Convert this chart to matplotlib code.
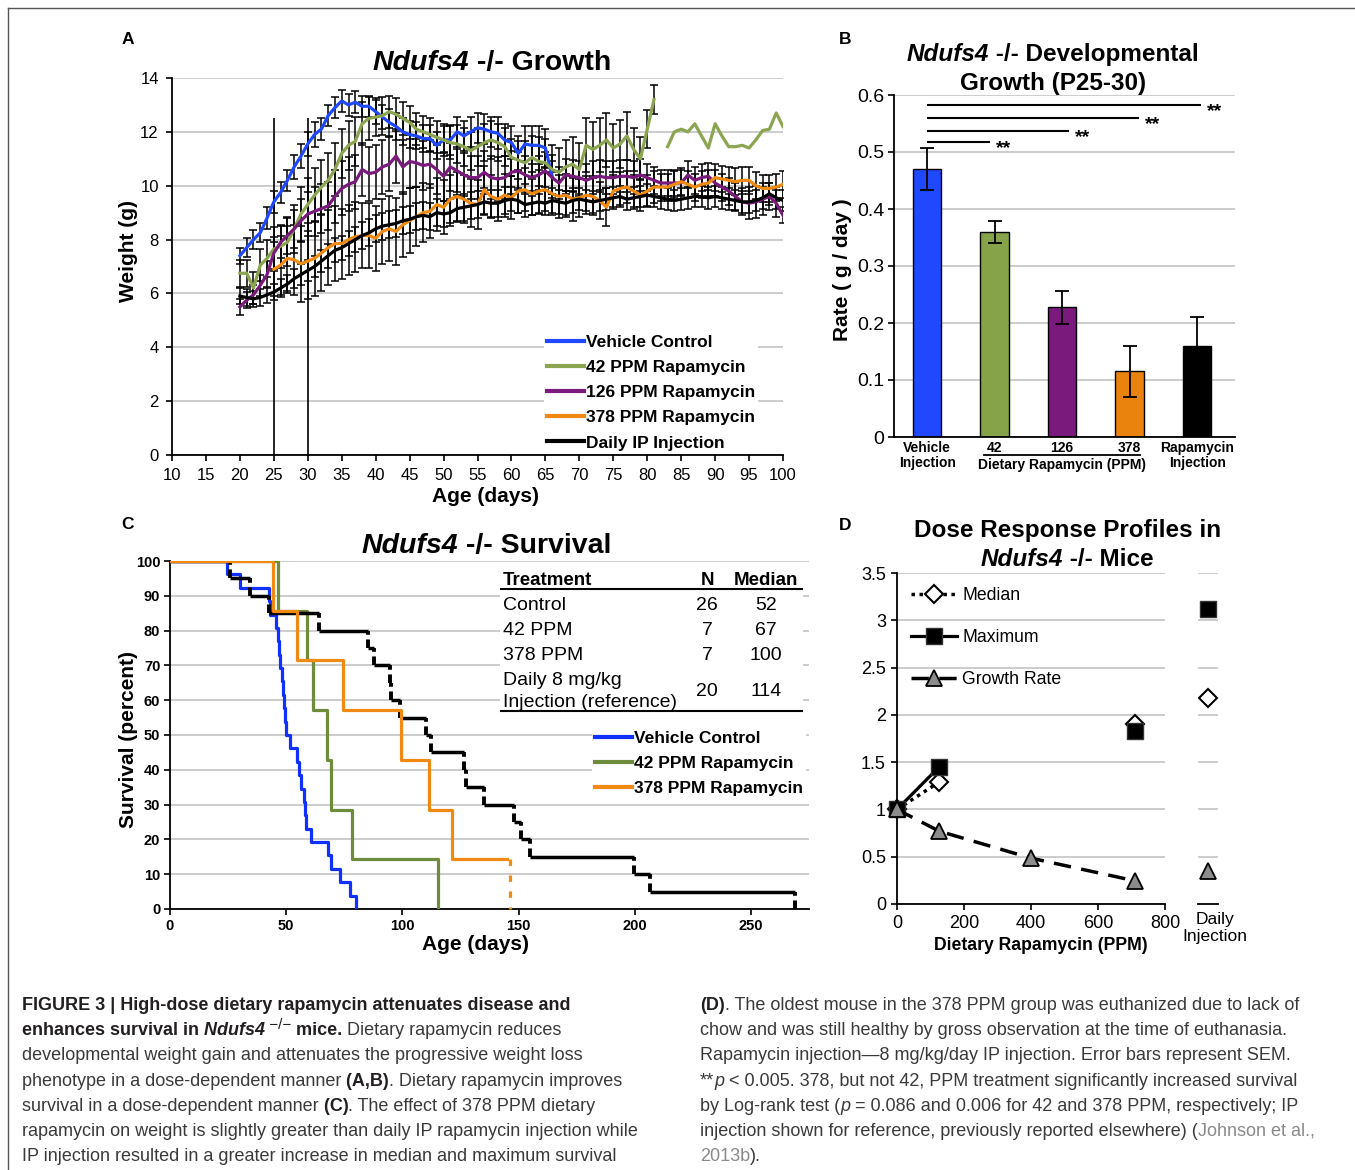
import numpy as np
import matplotlib
matplotlib.use("Agg")
import matplotlib.pyplot as plt
from matplotlib.lines import Line2D
from matplotlib.patches import Rectangle

plt.rcParams['font.family'] = ['Liberation Sans', 'DejaVu Sans']
plt.rcParams['axes.linewidth'] = 1.3

nan = np.nan
W, H = 1355, 1170

# ---------------- A: body weight, days 20-100
days = np.arange(20, 101)
vehicle_w = [7.4, 7.7, 8.0, 8.25, 8.8, 9.4, 9.75, 10.2, 10.7, 11.1,
             11.55, 11.9, 12.1, 12.6, 12.9, 13.15, 13.0, 13.1, 12.95, 12.95,
             12.75, 12.55, 12.35, 12.2, 12.0, 11.9, 11.85, 11.75, 11.75, 11.5,
             11.7, 11.7, 12.0, 11.85, 12.0, 12.15, 12.1, 12.0, 11.95, 11.7,
             11.6, 11.2, 11.55, 11.5, 11.5, 11.4, 10.35] + [nan] * 34
vehicle_e = [0.3, 0.35, 0.35, 0.35, 0.4, 0.4, 0.4, 0.4, 0.45, 0.45,
             0.45, 0.45, 0.4, 0.4, 0.4, 0.4, 0.4, 0.4, 0.4, 0.4,
             0.45, 0.45, 0.5, 0.5, 0.5, 0.5, 0.5, 0.5, 0.5, 0.5,
             0.5, 0.55, 0.55, 0.55, 0.55, 0.55, 0.55, 0.55, 0.6, 0.6,
             0.6, 0.65, 0.65, 0.7, 0.7, 0.7, 0.8] + [nan] * 34
ppm42_w = [6.75, 6.75, 6.2, 7.05, 7.3, 7.65, 7.75, 7.9, 8.4, 8.95,
           9.3, 9.65, 9.95, 10.2, 10.6, 11.2, 11.5, 11.65, 12.3, 12.5,
           12.55, 12.6, 12.75, 12.65, 12.5, 12.35, 12.1, 12.0, 11.9, 11.8,
           11.7, 11.6, 11.55, 11.45, 11.3, 11.45, 11.6, 11.7, 11.6, 11.45,
           11.05, 10.95, 10.85, 11.05, 10.9, 10.85, 10.6, 10.5, 10.7, 10.8,
           10.6, 11.5, 11.35, 11.5, 11.7, 11.4, 11.55, 11.85, 11.35, 11.0,
           12.1, 13.2, nan, 11.45, 12.0, 12.1, 12.0, 12.3, 11.85, 11.4,
           12.3, 11.85, 11.45, 11.45, 11.5, 11.4, 11.7, 12.05, 12.1, 12.7,
           12.2]
ppm42_e = [0.5, 0.5, 0.6, 0.6, 0.7, 0.8, 0.8, 0.9, 0.9, 1.0,
           1.0, 1.0, 1.0, 1.0, 1.0, 0.9, 0.9, 0.9, 0.8, 0.8,
           0.7, 0.7, 0.6, 0.6, 0.6, 0.6, 0.6, 0.6, 0.6, 0.6,
           0.6, 0.6, 0.7, 0.7, 0.7, 0.7, 0.7, 0.7, 0.7, 0.7,
           0.7, 0.7, 0.8, 0.8, 0.9, 0.9, 0.9, 0.9, 1.0, 1.0,
           1.0, 1.0, 1.0, 1.0, 1.0, 0.9, 0.9, 0.9, 0.8, 0.8,
           0.7, 0.55] + [nan] * 19
ppm126_w = [5.5, 5.75, 5.95, 6.3, 6.7, 7.5, 7.9, 8.15, 8.4, 8.7,
            8.95, 9.05, 9.15, 9.25, 9.6, 9.9, 10.05, 10.15, 10.6, 10.45,
            10.5, 10.7, 10.8, 11.1, 10.7, 10.9, 10.85, 10.75, 10.8, 10.6,
            10.35, 10.7, 10.55, 10.4, 10.3, 10.3, 10.5, 10.3, 10.25, 10.3,
            10.5, 10.55, 10.4, 10.3, 10.4, 10.55, 10.3, 10.1, 10.4, 10.35,
            10.3, 10.2, 10.3, 10.35, 10.3, 10.3, 10.35, 10.35, 10.3, 10.4,
            10.3, 10.2, 10.1, 10.1, 10.1, 10.1, 10.4, 10.2, 10.3, 10.35,
            10.1, 9.95, 9.8, 9.6, 9.4, 9.35, 9.4, 9.5, 9.6, 9.35,
            8.9]
ppm126_e = [0.3, 0.3, 0.35, 0.4, 0.5, 0.6, 0.6, 0.7, 0.7, 0.8,
            0.8, 0.9, 0.9, 0.9, 1.0, 1.0, 1.0, 1.0, 1.0, 1.0,
            1.0, 1.0, 1.0, 1.0, 1.0, 1.0, 0.9, 0.9, 0.9, 0.9,
            0.9, 0.9, 0.8, 0.8, 0.8, 0.8, 0.8, 0.8, 0.8, 0.8,
            0.8, 0.7, 0.7, 0.7, 0.7, 0.7, 0.6, 0.6, 0.6, 0.6,
            0.6, 0.6, 0.6, 0.6, 0.6, 0.6, 0.6, 0.6, 0.6, 0.6,
            0.5, 0.5, 0.5, 0.5, 0.5, 0.5, 0.5, 0.5, 0.5, 0.5,
            0.5, 0.5, 0.5, 0.5, 0.5, 0.6, 0.6, 0.6, 0.5, 0.5,
            0.3]
ppm378_w = [nan] * 5 + [
            6.9, 7.05, 7.3, 7.25, 7.1, 7.2, 7.3, 7.5, 7.7, 7.85,
            7.85, 8.0, 8.1, 8.15, 8.15, 8.05, 8.3, 8.4, 8.3, 8.55,
            8.7, 8.85, 9.0, 9.05, 9.3, 9.2, 9.5, 9.6, 9.5, 9.35,
            9.3, 9.85, 9.6, 9.5, 9.65, 9.55, 9.8, 9.85, 9.7, 9.8,
            9.85, 9.7, 9.6, 9.65, 9.5, 9.55, 9.65, 9.6, 9.45, 9.2,
            9.8, 9.9, 9.95, 9.8, 9.65, 9.8, 9.95, 9.95, 9.95, 10.05,
            10.15, 10.05, 9.95, 10.05, 10.1, 10.3, 10.25, 10.2, 10.15, 10.2,
            10.2, 10.0, 9.9, 9.9, 9.95, 10.05]
ppm378_e = [nan] * 5 + [
            1.0, 1.1, 1.2, 1.3, 1.4, 1.4, 1.4, 1.4, 1.4, 1.4,
            1.3, 1.3, 1.3, 1.2, 1.2, 1.2, 1.2, 1.2, 1.25, 1.2,
            1.2, 1.1, 1.1, 1.0, 1.0, 1.0, 0.9, 0.9, 0.9, 0.9,
            0.9, 0.9, 0.8, 0.8, 0.8, 0.8, 0.8, 0.8, 0.8, 0.8,
            0.8, 0.8, 0.8, 0.8, 0.8, 0.7, 0.7, 0.7, 0.7, 0.7,
            0.6, 0.6, 0.6, 0.6, 0.6, 0.6, 0.6, 0.5, 0.5, 0.5,
            0.5, 0.5, 0.5, 0.5, 0.5, 0.5, 0.5, 0.5, 0.5, 0.5,
            0.5, 0.5, 0.5, 0.5, 0.5, 0.5]
ip_w = [5.9, 5.85, 5.8, 5.85, 5.95, 6.05, 6.2, 6.35, 6.55, 6.7,
        6.85, 7.0, 7.2, 7.4, 7.6, 7.7, 7.85, 8.0, 8.15, 8.25,
        8.4, 8.5, 8.55, 8.6, 8.7, 8.75, 8.85, 8.9, 8.85, 9.0,
        8.95, 9.0, 9.15, 9.2, 9.25, 9.3, 9.4, 9.35, 9.35, 9.45,
        9.5, 9.45, 9.3, 9.35, 9.4, 9.35, 9.45, 9.4, 9.35, 9.45,
        9.5, 9.45, 9.4, 9.45, 9.5, 9.55, 9.6, 9.5, 9.55, 9.6,
        9.65, 9.6, 9.55, 9.5, 9.45, 9.5, 9.55, 9.6, 9.6, 9.55,
        9.6, 9.55, 9.5, 9.45, 9.4, 9.4, 9.45, 9.55, 9.7, 9.55,
        9.45]
ip_e = [0.3, 0.3, 0.3, 0.3, 0.3, 0.3, 0.35, 0.35, 0.35, 0.4,
        0.4, 0.4, 0.4, 0.45, 0.45, 0.45, 0.45, 0.45, 0.5, 0.5] + \
       [0.5] * 20 + [0.45] * 10 + [0.4] * 31

# ---------------- B: growth rate P25-30
groups = ['Vehicle\nInjection', '42', '126', '378', 'Rapamycin\nInjection']
rate = [0.47, 0.36, 0.228, 0.115, 0.16]
rate_err = [0.037, 0.019, 0.029, 0.045, 0.05]

# ---------------- C: survival (death ages, days)
control_deaths = [24.5, 30, 42.5, 43, 45.5, 46.5, 47, 47.5, 48, 48.5, 49, 49.5, 50,
                  51.5, 54.5, 55.5, 56.5, 57.5, 58, 58.5, 60.5, 68, 69.5, 73, 77.5, 80]
ppm42_deaths = [46.5, 59, 61.5, 67.5, 69.5, 78.5, 115.5]
ppm378_deaths = [44.5, 54.5, 74.5, 99.5, 111.5, 121.5]
ppm378_censor = 146.5
ip_deaths = [26, 34.5, 42.5, 64, 85, 88, 94.5, 95, 99, 110, 112.5, 126.5, 127.5,
             135, 148, 151, 155, 199.5, 206.5, 269]
table_rows = [('Control', '26', '52'), ('42 PPM', '7', '67'), ('378 PPM', '7', '100'),
              ('Daily 8 mg/kg\nInjection (reference)', '20', '114')]

# ---------------- D: dose response (relative to control)
dose = [0, 126, 400, 710]
median_rel = [1.0, 1.29, nan, 1.9]
max_rel = [1.0, 1.45, nan, 1.83]
growth_rel = [1.0, 0.77, 0.485, 0.245]
inj_median, inj_max, inj_growth = 2.18, 3.12, 0.345

BLUE, GREEN, PURPLE, ORANGE = '#1f48ff', '#8ba550', '#7a1a7c', '#f08a12'
GRID = '#c8c8c8'

fig = plt.figure(figsize=(W / 100, H / 100), dpi=100)
rend = fig.canvas.get_renderer()


def add_ax(l, t, r, b):
    return fig.add_axes([l / W, 1 - b / H, (r - l) / W, (b - t) / H])


def ftext(x, y, s, **kw):
    return fig.text(x / W, 1 - y / H, s, **kw)


def rich(x, y, runs, ha='left', size=12, color='#333333'):
    arts, widths = [], []
    for s, kw in runs:
        k = dict(fontsize=size, color=color, va='baseline', ha='left')
        k.update(kw)
        dy = k.pop('dy', 0)
        t = fig.text(0, 1 - (y + dy) / H, s, **k)
        widths.append(t.get_window_extent(rend).width)
        arts.append(t)
    x0 = x - sum(widths) / 2 if ha == 'center' else x
    for t, w in zip(arts, widths):
        t.set_x(x0 / W)
        x0 += w


def clean(ax):
    ax.spines['top'].set_visible(False)
    ax.spines['right'].set_visible(False)
    ax.yaxis.grid(True, color=GRID, lw=1.3)
    ax.set_axisbelow(True)


B = dict(fontweight='bold')
BI = dict(fontweight='bold', fontstyle='italic')

# border
fig.add_artist(Line2D([8 / W, 1], [1 - 8 / H, 1 - 8 / H], color='#555555', lw=1))
fig.add_artist(Line2D([8 / W, 8 / W], [0, 1 - 8 / H], color='#555555', lw=1))

# ======== A
axA = add_ax(172, 78, 783, 455)
clean(axA)
axA.set_xlim(10, 100)
axA.set_ylim(0, 14)
axA.set_xticks(range(10, 101, 5))
axA.set_yticks(range(0, 15, 2))
axA.tick_params(labelsize=12, length=4.5, width=1.2, pad=5)
axA.vlines([25, 30], 0, 12.5, color='k', lw=1.2, zorder=2)
seriesA = [(vehicle_w, vehicle_e, BLUE, 'Vehicle Control'),
           (ppm42_w, ppm42_e, GREEN, '42 PPM Rapamycin'),
           (ppm126_w, ppm126_e, PURPLE, '126 PPM Rapamycin'),
           (ppm378_w, ppm378_e, ORANGE, '378 PPM Rapamycin'),
           (ip_w, ip_e, 'black', 'Daily IP Injection')]
for w, e, c, lab in seriesA:
    axA.errorbar(days, w, yerr=e, fmt='none', ecolor='k', elinewidth=1.1,
                 capsize=3, capthick=1.1, zorder=2)
for w, e, c, lab in seriesA:
    axA.plot(days, w, color=c, lw=2.3, label=lab, zorder=3)
legA = axA.legend(loc='upper left', bbox_to_anchor=(544 / W, 1 - 331 / H),
                  bbox_transform=fig.transFigure, prop=dict(weight='bold', size=12.5),
                  frameon=True, fancybox=False, framealpha=1, edgecolor='none',
                  borderpad=0.2, handlelength=2.1, handletextpad=0.1, labelspacing=0.58,
                  borderaxespad=0)
for h in legA.get_lines():
    h.set_linewidth(3)
ftext(128, 44, 'A', fontsize=12.5, ha='center', va='baseline', **B)
rich(492, 70, [('Ndufs4', BI), (' -/- Growth', B)], ha='center', size=20.5, color='k')
ftext(129, 251, 'Weight (g)', fontsize=15, rotation=90, ha='center', va='center', **B)
ftext(485, 496, 'Age (days)', fontsize=15, ha='center', va='center', **B)

# ======== B
axB = add_ax(894, 95, 1235, 437)
clean(axB)
axB.set_ylim(0, 0.6)
axB.set_xlim(-0.49, 4.56)
xb = np.arange(len(groups))
axB.bar(xb, rate, width=0.42, color=[BLUE, '#87a34a', PURPLE, '#ea830e', 'black'],
        edgecolor='black', lw=1, zorder=2)
axB.errorbar(xb, rate, yerr=rate_err, fmt='none', ecolor='k', elinewidth=1.3,
             capsize=5, capthick=1.3, zorder=3)
axB.set_yticks(np.arange(0, 0.61, 0.1))
axB.set_yticklabels(['0', '0.1', '0.2', '0.3', '0.4', '0.5', '0.6'])
axB.set_xticks(xb)
axB.set_xticklabels(groups, fontweight='bold', fontsize=10, linespacing=1.1)
axB.tick_params(axis='y', labelsize=14, length=4, width=1.2, pad=3)
axB.tick_params(axis='x', length=0, pad=3)
for xe, yl in [(0.92, 0.518), (2.09, 0.537), (3.13, 0.560), (4.04, 0.583)]:
    axB.plot([0.02, xe], [yl, yl], color='k', lw=1.5, zorder=3)
    axB.text(xe + 0.1, yl - 0.012, '**', fontsize=14, ha='left', va='center', **B)
tr = axB.get_xaxis_transform()
axB.plot([0.85, 3.15], [-0.053, -0.053], color='k', lw=1.3, transform=tr, clip_on=False)
axB.text(2.0, -0.082, 'Dietary Rapamycin (PPM)', transform=tr, fontsize=10,
         ha='center', va='center', **B)
ftext(845, 44, 'B', fontsize=12.5, ha='center', va='baseline', **B)
rich(1053, 61, [('Ndufs4', BI), (' -/- Developmental', B)], ha='center', size=17.5, color='k')
ftext(1053, 90, 'Growth (P25-30)', fontsize=17.5, ha='center', va='baseline', color='k', **B)
ftext(842, 270, 'Rate ( g / day )', fontsize=15, rotation=90, ha='center', va='center', **B)

# ======== C
axC = add_ax(170, 561, 809, 909)
clean(axC)
axC.set_xlim(0, 275)
axC.set_ylim(0, 100)
axC.set_xticks(range(0, 251, 50))
axC.set_yticks(range(0, 101, 10))
axC.tick_params(labelsize=10.5, length=4, width=1.2, pad=3)
for lab in axC.get_xticklabels() + axC.get_yticklabels():
    lab.set_fontweight('bold')


def km_path(deaths, n, t_end=None):
    xs, ys, s = [0], [100.0], 100.0
    for k, t in enumerate(deaths, 1):
        xs += [t, t]
        ys += [s, 100.0 * (1 - k / n)]
        s = 100.0 * (1 - k / n)
    if t_end is not None:
        xs.append(t_end)
        ys.append(s)
    return xs, ys


x1, y1 = km_path(control_deaths, 26)
axC.plot(x1, y1, color='#1030ff', lw=2.3, zorder=3, label='Vehicle Control')
x2, y2 = km_path(ppm42_deaths, 7)
axC.plot(x2, y2, color='#6e8c3c', lw=2.3, zorder=3, label='42 PPM Rapamycin')
x3, y3 = km_path(ppm378_deaths, 7, t_end=ppm378_censor - 1.5)
axC.plot(x3, y3, color=ORANGE, lw=2.3, zorder=5, label='378 PPM Rapamycin')
axC.plot([ppm378_censor, ppm378_censor], [y3[-1], 0], color=ORANGE, lw=2.3,
         ls=(0, (2, 3)), zorder=5, clip_on=False)
n_ip = len(ip_deaths)
lev = [100.0 * (1 - k / n_ip) for k in range(n_ip + 1)]
axC.hlines(lev[:-1], [0] + ip_deaths[:-1], ip_deaths, color='k', lw=2.5, zorder=4)
axC.vlines(ip_deaths, lev[1:], lev[:-1], color='k', lw=2.8, linestyles=(0, (2.2, 1.2)), zorder=4)
legC = axC.legend(loc='upper left', bbox_to_anchor=(592 / W, 1 - 727 / H),
                  bbox_transform=fig.transFigure, prop=dict(weight='bold', size=12.5),
                  frameon=True, fancybox=False, framealpha=1, edgecolor='none',
                  borderpad=0.2, handlelength=2.1, handletextpad=0.1, labelspacing=0.58,
                  borderaxespad=0)
for h in legC.get_lines():
    h.set_linewidth(3)

# survival table
fig.add_artist(Rectangle((500 / W, 1 - 713 / H), 303 / W, 148 / H, transform=fig.transFigure,
                         facecolor='white', edgecolor='none', zorder=1))
ftext(503, 585, 'Treatment', fontsize=13.5, ha='left', va='baseline', **B)
ftext(707, 585, 'N', fontsize=13.5, ha='center', va='baseline', **B)
ftext(766, 585, 'Median', fontsize=13.5, ha='center', va='baseline', **B)
fig.add_artist(Line2D([501 / W, 802 / W], [1 - 589 / H] * 2, color='k', lw=1.5))
fig.add_artist(Line2D([501 / W, 802 / W], [1 - 711 / H] * 2, color='k', lw=1.5))
for (name, n, med), yb in zip(table_rows, [610, 635, 660, 685]):
    if '\n' in name:
        a, b = name.split('\n')
        ftext(503, yb, a, fontsize=14, ha='left', va='baseline')
        ftext(503, yb + 22, b, fontsize=14, ha='left', va='baseline')
        yb += 11
    else:
        ftext(503, yb, name, fontsize=14, ha='left', va='baseline')
    ftext(707, yb, n, fontsize=14, ha='center', va='baseline')
    ftext(766, yb, med, fontsize=14, ha='center', va='baseline')

ftext(128, 529, 'C', fontsize=12.5, ha='center', va='baseline', **B)
rich(486, 553, [('Ndufs4', BI), (' -/- Survival', B)], ha='center', size=20.5, color='k')
ftext(128, 739, 'Survival (percent)', fontsize=15, rotation=90, ha='center', va='center', **B)
ftext(476, 944, 'Age (days)', fontsize=15, ha='center', va='center', **B)

# ======== D
axD = add_ax(897, 573, 1165, 904)
clean(axD)
axD.set_xlim(0, 800)
axD.set_ylim(0, 3.5)
axD.set_xticks(range(0, 801, 200))
axD.set_yticks(np.arange(0, 3.51, 0.5))
axD.set_yticklabels(['0', '0.5', '1', '1.5', '2', '2.5', '3', '3.5'])
axD.tick_params(labelsize=13, length=4, width=1.2, pad=4)
axD.plot(dose, median_rel, color='k', lw=2.5, ls=(0, (1, 1.3)), marker='D', ms=9,
         mfc='white', mec='k', mew=1.5, zorder=3, clip_on=False, label='Median')
axD.plot(dose, max_rel, color='k', lw=2.3, marker='s', ms=12, mfc='black', mec='#333333',
         zorder=4, clip_on=False, label='Maximum')
axD.plot(dose, growth_rel, color='k', lw=2.5, ls=(0, (5, 3)), marker='^', ms=11,
         mfc='#8c8c8c', mec='k', mew=1.3, zorder=5, clip_on=False, label='Growth Rate')
axD.legend(loc='upper left', bbox_to_anchor=(911 / W, 1 - 587 / H),
           bbox_transform=fig.transFigure, frameon=False, fontsize=12.7,
           borderpad=0, handlelength=2.6, handletextpad=0.3, labelspacing=1.42,
           borderaxespad=0)
ftext(845, 530, 'D', fontsize=12.5, ha='center', va='baseline', **B)
ftext(1068, 537, 'Dose Response Profiles in', fontsize=17.5, ha='center', va='baseline',
      color='k', **B)
rich(1067, 566, [('Ndufs4', BI), (' -/- Mice', B)], ha='center', size=17.5, color='k')
ftext(1041, 945, 'Dietary Rapamycin (PPM)', fontsize=12.7, ha='center', va='center', **B)

axI = add_ax(1198, 573, 1218, 904)
axI.set_xlim(-1, 1)
axI.set_ylim(0, 3.5)
axI.set_yticks(np.arange(0.5, 3.51, 0.5))
axI.yaxis.grid(True, color=GRID, lw=1.3)
axI.set_axisbelow(True)
for s in ['top', 'right', 'left']:
    axI.spines[s].set_visible(False)
axI.tick_params(length=0, labelleft=False, labelbottom=False)
axI.plot([0], [inj_median], 'D', ms=9, mfc='white', mec='k', mew=1.5, zorder=3)
axI.plot([0], [inj_max], 's', ms=12, mfc='black', mec='#333333', zorder=4)
axI.plot([0], [inj_growth], '^', ms=11, mfc='#8c8c8c', mec='k', mew=1.3, zorder=5)
ftext(1215, 928, 'Daily\nInjection', fontsize=12.5, ha='center', va='center', linespacing=1.2)

# ======== caption
DK, TX, LG = '#231f20', '#3a3a3a', '#8a8a8a'
cs = 13
lines_left = [
    [('FIGURE 3 | High-dose dietary rapamycin attenuates disease and', dict(fontweight='bold', color=DK))],
    [('enhances survival in', dict(fontweight='bold', color=DK)),
     (' Ndufs4', dict(fontweight='bold', fontstyle='italic', color=DK)),
     (' \u2212/\u2212', dict(fontsize=11, dy=-6, color=DK)),
     (' mice.', dict(fontweight='bold', color=DK)),
     (' Dietary rapamycin reduces', {})],
    [('developmental weight gain and attenuates the progressive weight loss', {})],
    [('phenotype in a dose-dependent manner', {}), (' (A,B)', dict(fontweight='bold', color=DK)),
     ('. Dietary rapamycin improves', {})],
    [('survival in a dose-dependent manner', {}), (' (C)', dict(fontweight='bold', color=DK)),
     ('. The effect of 378 PPM dietary', {})],
    [('rapamycin on weight is slightly greater than daily IP rapamycin injection while', {})],
    [('IP injection resulted in a greater increase in median and maximum survival', {})],
]
lines_right = [
    [('(D)', dict(fontweight='bold', color=DK)),
     ('. The oldest mouse in the 378 PPM group was euthanized due to lack of', {})],
    [('chow and was still healthy by gross observation at the time of euthanasia.', {})],
    [('Rapamycin injection\u20148 mg/kg/day IP injection. Error bars represent SEM.', {})],
    [('**', {}), ('p', dict(fontstyle='italic')),
     (' < 0.005. 378, but not 42, PPM treatment significantly increased survival', {})],
    [('by Log-rank test (', {}), ('p', dict(fontstyle='italic')),
     (' = 0.086 and 0.006 for 42 and 378 PPM, respectively; IP', {})],
    [('injection shown for reference, previously reported elsewhere) (', {}),
     ('Johnson et al.,', dict(color=LG))],
    [('2013b', dict(color=LG)), (').', {})],
]
for i, runs in enumerate(lines_left):
    rich(22, 1010 + i * 25.2, runs, size=cs, color=TX)
for i, runs in enumerate(lines_right):
    rich(700, 1010 + i * 25.2, runs, size=cs, color=TX)

fig.savefig('out.png', dpi=100)
